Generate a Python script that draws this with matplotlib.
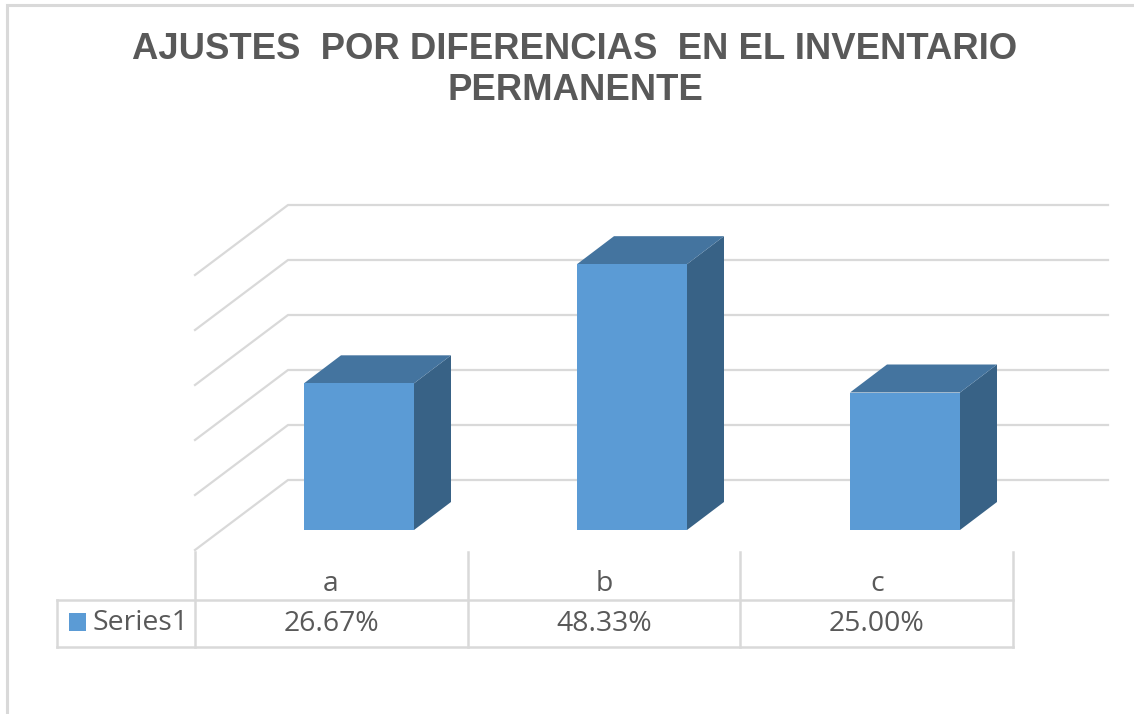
import matplotlib
matplotlib.use('Agg')
import matplotlib.pyplot as plt
from matplotlib.patches import Polygon, Rectangle

categories = ['a', 'b', 'c']
values = [0.2667, 0.4833, 0.25]
value_labels = ['26.67%', '48.33%', '25.00%']
series_name = 'Series1'
grid_values = [0.0, 0.1, 0.2, 0.3, 0.4, 0.5]
title = 'AJUSTES  POR DIFERENCIAS  EN EL INVENTARIO\nPERMANENTE'

FRONT = '#5B9BD5'
TOP = '#44749F'
SIDE = '#386286'
GRID = '#D9D9D9'
TEXT = '#595959'

W, H = 1134, 714
CAT_PX = 273.0    # width of one category
VAL_PX = 550.0    # pixels for 100%
X0_PX, Y0_PX = 359.0, 530.0   # centre of first bar, baseline of the bars

# depth of the bars and of the floor, in axis units
bar_dx, bar_dy = 37 / CAT_PX, 28 / VAL_PX
wall_dx, wall_dy = 93 / CAT_PX, 70 / VAL_PX
bar_w = 110 / CAT_PX
label_shift = 28 / CAT_PX   # table columns sit left of the bars


def xpx(p):
    return (p - X0_PX) / CAT_PX


def ypx(p):
    return (Y0_PX - p) / VAL_PX


fig = plt.figure(figsize=(W / 100, H / 100), dpi=100)
ax = fig.add_axes([0, 0, 1, 1])
ax.set_xlim(xpx(0), xpx(W))
ax.set_ylim(ypx(H), ypx(0))
ax.axis('off')

# outer frame of the chart
ax.plot([xpx(7), xpx(7), xpx(W)], [ypx(H), ypx(5), ypx(5)], color=GRID, lw=2.2,
        solid_joinstyle='miter')

# back wall gridlines with the diagonal on the side wall
left, right = xpx(195), xpx(1108)
base = ypx(550)
for v in grid_values:
    ax.plot([left, left + wall_dx, right], [base + v, base + v + wall_dy, base + v + wall_dy],
            color=GRID, lw=1.6, solid_joinstyle='miter')

# bars
for i, v in enumerate(values):
    x0, x1 = i - bar_w / 2, i + bar_w / 2
    ax.add_patch(Polygon([(x1, 0), (x1 + bar_dx, bar_dy), (x1 + bar_dx, v + bar_dy), (x1, v)],
                         fc=SIDE, ec='none', zorder=3))
    ax.add_patch(Polygon([(x0, v), (x0 + bar_dx, v + bar_dy), (x1 + bar_dx, v + bar_dy), (x1, v)],
                         fc=TOP, ec='none', zorder=3))
    ax.add_patch(Rectangle((x0, 0), bar_w, v, fc=FRONT, ec='none', zorder=4))

# data table
t_left, t_right = xpx(57), xpx(1013)
row_top, row_mid, row_bot = ypx(552), ypx(600), ypx(647)
ax.plot([t_left, t_right], [row_mid, row_mid], color=GRID, lw=1.8)
ax.plot([t_left, t_right], [row_bot, row_bot], color=GRID, lw=1.8)
ax.plot([t_left, t_left], [row_mid, row_bot], color=GRID, lw=1.8)
for i in range(len(categories) + 1):
    xv = xpx(195) + i * (818 / 3) / CAT_PX
    ax.plot([xv, xv], [row_top, row_bot], color=GRID, lw=1.8)

for i, cat in enumerate(categories):
    ax.text(i - label_shift, ypx(584), cat, ha='center', va='center', fontsize=20.4, color=TEXT,
            family='Open Sans')
    ax.text(i - label_shift, ypx(624), value_labels[i], ha='center', va='center', fontsize=20.4,
            color=TEXT, family='Open Sans')

ax.add_patch(Rectangle((xpx(69), ypx(631)), 17 / CAT_PX, 18 / VAL_PX, fc=FRONT, ec='none'))
ax.text(xpx(93), ypx(623), series_name, ha='left', va='center', fontsize=20.4, color=TEXT,
        family='Open Sans')

ax.text(xpx(575), ypx(70), title, ha='center', va='center', fontsize=26.3, fontweight='bold',
        color=TEXT, family='Liberation Sans', linespacing=1.19)

fig.savefig('out.png', dpi=100)
